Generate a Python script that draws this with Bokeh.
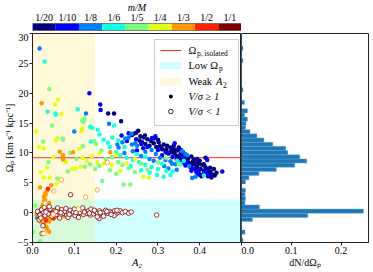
from bokeh.plotting import figure
from bokeh.layouts import column, row
from bokeh.models import Range1d, FixedTicker, BoxAnnotation, Label, Span
from bokeh.core.properties import value
from bokeh.embed import file_html
from bokeh.resources import INLINE

SERIF = "Liberation Serif"

# ---------------- data ----------------
mass_labels = ["1/20", "1/10", "1/8", "1/6", "1/5", "1/4", "1/3", "1/2", "1/1"]
mass_colors = ["#000080", "#0000ff", "#0080ff", "#15ffe2", "#7bff7b",
               "#e2ff15", "#ff9700", "#ff2100", "#800000"]

# filled points (V/sigma >= 1): (A2, Omega_p) per mass ratio
m20 = [(0.181,16.6),(0.195,16.6),(0.212,15.3),(0.253,13.7),(0.248,13.4),(0.242,13.2),(0.238,13.0),
       (0.269,12.9),(0.266,12.6),(0.256,12.1),(0.262,11.8),(0.275,12.3),(0.283,12.0),(0.29,11.6),
       (0.302,11.8),(0.314,11.4),(0.322,11.2),(0.33,10.9),(0.338,11.2),(0.342,10.5),(0.334,10.1),
       (0.354,9.8),(0.31,10.6),(0.318,10.2),(0.326,9.9),(0.346,10.4),(0.35,10.9),(0.36,10.1),
       (0.365,9.3),(0.372,9.0),(0.38,9.4),(0.386,8.9),(0.394,9.0),(0.4,8.7),(0.392,8.4),(0.378,7.6),
       (0.388,8.1),(0.394,7.7),(0.402,7.3),(0.41,7.0),(0.418,7.2),(0.426,6.8),(0.43,6.4),(0.422,6.5),
       (0.434,7.3),(0.406,8.0),(0.414,7.6),(0.398,8.2),(0.383,8.5),(0.37,8.6),(0.296,11.0),(0.305,11.1),
       (0.28,11.2),(0.27,11.5),(0.336,10.6),(0.345,9.5),(0.358,9.7),(0.35,9.2),(0.362,8.9),(0.374,8.3),
       (0.38,8.0),(0.39,7.2),(0.42,6.1),(0.44,6.7),(0.425,7.5),(0.41,8.1),(0.415,6.6),(0.29,12.4),
       (0.3,12.2),(0.258,12.8),(0.308,10.9),(0.32,10.6),(0.33,10.2),(0.34,9.9),(0.355,8.8),(0.414,9.2),
       (0.428,5.9),(0.436,6.2),(0.404,6.1),(0.396,6.4)]
m10 = [(0.136,20.0),(0.162,18.1),(0.163,17.2),(0.294,12.8),(0.213,12.9),(0.418,8.8),(0.398,6.6),
       (0.414,6.9),(0.408,6.4),(0.454,6.9),(0.36,8.3),(0.366,7.9),(0.23,13.3),(0.26,11.5),(0.275,11.0),
       (0.3,10.5),(0.322,10.0),(0.31,9.6),(0.335,9.3),(0.345,8.9),(0.368,8.5),(0.385,7.4),(0.397,7.0),
       (0.34,11.6),(0.286,12.5),(0.226,12.0),(0.248,12.3),(0.36,9.5),(0.38,7.0),(0.42,6.3),(0.392,6.8),
       (0.25,10.4),(0.265,10.8),(0.355,10.5)]
m8 = [(0.017,27.5),(0.128,16.6),(0.183,14.9),(0.1,13.6),(0.237,13.2),(0.222,12.4),(0.23,12.6),
      (0.246,11.6),(0.25,11.2),(0.238,11.4),(0.215,11.8),(0.203,11.4),(0.206,10.9),(0.358,10.3),
      (0.366,9.8),(0.37,9.6),(0.334,8.2),(0.342,8.1),(0.382,5.8),(0.011,-0.8),(0.27,10.2),(0.285,10.5),
      (0.295,9.8),(0.305,9.2),(0.318,8.8),(0.33,8.6),(0.35,8.5),(0.26,9.5),(0.28,9.0),(0.29,8.7),
      (0.315,7.8),(0.325,7.4),(0.345,7.2),(0.24,10.3),(0.22,10.0),(0.375,7.8),(0.39,6.0)]
m6 = [(0.029,25.3),(0.036,16.9),(0.055,16.6),(0.056,16.4),(0.108,17.3),(0.138,14.4),(0.143,14.2),
      (0.156,13.9),(0.16,13.1),(0.195,14.6),(0.191,12.6),(0.14,11.9),(0.346,8.7),(0.362,8.7),
      (0.354,8.1),(0.41,6.2),(0.298,6.3),(0.314,6.0),(0.18,11.7),(0.185,11.0),(0.2,10.1),(0.21,9.6),
      (0.225,9.2),(0.24,8.8),(0.255,8.5),(0.27,8.0),(0.285,7.6),(0.3,7.3),(0.32,7.0),(0.335,6.9),
      (0.26,7.1),(0.235,7.8),(0.25,9.8),(0.27,9.3),(0.22,11.0),(0.31,8.2),(0.28,6.7),(0.205,12.1),
      (0.17,12.2),(0.33,6.3)]
m5 = [(0.040,20.7),(0.124,15.8),(0.119,15.4),(0.124,15.5),(0.122,15.2),(0.047,14.6),(0.073,12.4),
      (0.026,11.9),(0.073,12.2),(0.121,11.1),(0.059,5.7),(0.007,1.2),(0.002,-3.2),(0.018,-4.8),
      (0.167,5.3),(0.218,4.7),(0.234,4.7),(0.35,8.1),(0.148,12.0),(0.152,11.5),(0.125,7.7),(0.138,8.1),
      (0.15,7.3),(0.16,7.8),(0.175,9.0),(0.19,9.3),(0.205,8.5),(0.215,8.0),(0.23,7.4),(0.245,6.8),
      (0.2,6.5),(0.185,7.1),(0.09,10.0),(0.105,9.0),(0.165,10.4),(0.26,8.2),(0.275,7.2),(0.3,8.4),
      (0.32,9.2),(0.085,6.9),(0.038,8.5)]
m4 = [(0.061,18.9),(0.054,18.1),(0.069,16.5),(0.009,13.6),(0.119,14.1),(0.117,13.6),(0.059,12.4),
      (0.055,12.1),(0.027,10.8),(0.112,10.7),(0.095,7.3),(0.103,7.4),(0.115,7.7),(0.027,5.9),
      (0.041,5.9),(0.278,5.9),(0.08,8.5),(0.12,9.2),(0.13,8.7),(0.142,9.5),(0.155,8.5),(0.17,8.2),
      (0.19,8.0),(0.21,7.0),(0.225,8.3),(0.245,9.0),(0.16,9.9),(0.05,9.3),(0.035,7.5),(0.265,6.0),
      (0.2,9.7),(0.058,4.9),(0.02,6.8),(0.015,11.0)]
m3 = [(0.022,18.3),(0.065,10.2),(0.097,10.1),(0.073,9.6),(0.073,8.9),(0.186,10.1),(0.035,3.7),
      (0.031,3.3),(0.031,3.0),(0.027,2.6),(0.028,1.9),(0.025,1.3),(0.022,0.9),(0.23,0.1),(0.015,0.3),
      (0.02,-0.2),(0.03,-0.6),(0.035,-1.0),(0.04,-1.5),(0.028,-1.9),(0.033,-2.4),(0.038,0.5),
      (0.045,-0.3),(0.05,0.2),(0.055,-0.7),(0.06,0.0),(0.065,-0.4),(0.07,0.3),(0.08,-0.2),(0.09,0.1),
      (0.1,-0.3),(0.12,0.2),(0.135,-0.1),(0.04,-3.2),(0.035,-2.8),(0.018,4.2),(0.045,4.6),(0.01,-0.4),
      (0.03,2.2),(0.04,1.6),(0.025,-0.9),(0.043,-0.8),(0.052,-0.5),(0.063,0.4),(0.077,-0.6),(0.019,-1.5),
      (0.036,0.0),(0.058,0.6),(0.085,0.3),(0.11,-0.5)]
m2 = [(0.037,4.0),(0.025,-0.5),(0.045,0.1),(0.06,-0.3),(0.02,0.4),(0.05,-1.0),(0.075,0.0),(0.032,-1.3)]
m1 = [(0.04,0.0),(0.015,-0.1)]
filled_groups = [m20, m10, m8, m6, m5, m4, m3, m2, m1]

# open points (V/sigma < 1)
open_m1 = [(0.091,3.0),(0.023,-3.5),(0.159,-1.0),(0.297,-0.4),(0.012,0.2),(0.018,-0.4),(0.022,0.5),
           (0.027,0.0),(0.03,-0.5),(0.034,0.3),(0.038,-0.2),(0.042,0.6),(0.046,-0.6),(0.05,0.0),
           (0.054,0.4),(0.058,-0.3),(0.062,0.1),(0.066,-0.5),(0.07,0.5),(0.074,-0.1),(0.078,0.2),
           (0.082,-0.4),(0.086,0.0),(0.09,0.4),(0.094,-0.2),(0.098,0.1),(0.102,-0.5),(0.106,0.3),
           (0.11,-0.1),(0.114,0.0),(0.118,0.5),(0.122,-0.3),(0.126,0.2),(0.13,-0.1),(0.134,0.3),
           (0.138,-0.4),(0.142,0.1),(0.146,-0.2),(0.15,0.2),(0.155,0.0),(0.16,0.3),(0.165,-0.2),
           (0.17,0.1),(0.175,0.4),(0.18,-0.1),(0.185,0.2),(0.19,0.0),(0.196,0.3),(0.2,-0.2),(0.205,0.1),
           (0.21,0.3),(0.215,0.0),(0.222,0.2),(0.23,-0.1),(0.236,0.1),(0.04,1.0),(0.06,0.8),(0.08,0.7),
           (0.1,0.6),(0.12,0.8),(0.14,0.6),(0.016,-1.2),(0.028,0.9),(0.065,-0.9),(0.085,-0.8),
           (0.11,-0.8),(0.155,-0.7),(0.025,-2.2),(0.02,-0.9),(0.17,-0.6),(0.195,-0.5),
           (0.032,0.1),(0.048,-0.2),(0.056,0.2),(0.068,0.0),(0.088,-0.3),(0.104,0.0),(0.124,0.1),
           (0.136,-0.1),(0.148,0.4),(0.162,0.0),(0.178,0.2),(0.188,-0.3),(0.202,0.4)]
open_m3 = [(0.069,5.5),(0.127,2.6),(0.179,8.4),(0.155,3.8),(0.051,3.6),(0.027,-3.5),(0.05,-0.3),
           (0.11,0.6),(0.03,1.6)]

omega_isolated = 9.2
low_omega_max = 2.2
weak_a2_max = 0.15

# histogram dN/dOmega_p : 50 bins of width 0.7 from -5
hist_lo = -5.0
hist_width = 0.7
hist_density = [0.003, 0, 0.007, 0, 0, 0.022, 0.133, 0.245, 0.036, 0.007,
                0.008, 0.007, 0.008, 0, 0.008, 0.015, 0.035, 0.070, 0.107, 0.131,
                0.117, 0.093, 0.089, 0.063, 0.045, 0.031, 0.017, 0.008, 0.009, 0.012,
                0.006, 0.012, 0, 0.006, 0, 0, 0.003, 0, 0, 0,
                0, 0, 0, 0.003, 0, 0, 0.003, 0, 0, 0]

# ---------------- styling helpers ----------------
def style_axis(ax):
    ax.major_label_text_font = SERIF
    ax.major_label_text_font_size = "10px"
    ax.major_label_text_color = "black"
    ax.axis_label_text_font = SERIF
    ax.axis_label_text_font_size = "10px"
    ax.axis_label_text_font_style = "normal"
    ax.axis_label_text_color = "black"
    ax.axis_label_standoff = 0
    ax.major_tick_out = 3
    ax.major_tick_in = 0
    ax.minor_tick_out = 0
    ax.minor_tick_in = 0
    ax.major_label_standoff = 1
    ax.axis_line_color = "#222222"
    ax.major_tick_line_color = "#222222"

FRAME_W = 209
FRAME_H = 209
LEFT = 32
TOP = 33
BOTTOM = 30
HIST_W = 127
RIGHT = 5

# ---------------- colour bar ----------------
cb = figure(width=LEFT + FRAME_W, height=TOP, x_range=Range1d(0, len(mass_labels)),
            y_range=Range1d(0, TOP), output_backend="svg", toolbar_location=None,
            min_border_left=LEFT, min_border_right=0, min_border_top=0, min_border_bottom=0)
cb.axis.visible = False
cb.grid.visible = False
cb.outline_line_color = None
cb.background_fill_color = None
cb.border_fill_color = None
idx = list(range(len(mass_labels)))
cb.rect(x=[i + 0.5 for i in idx], y=6.5, width=1, height=7, fill_color=mass_colors, line_color=None)
cb.rect(x=len(idx) / 2, y=6.5, width=len(idx), height=7, fill_color=None, line_color="#444444", line_width=0.6)
cb.text(x=[i + 0.5 for i in idx], y=16.5, text=mass_labels, text_align="center",
        text_baseline="middle", text_font=value(SERIF), text_font_size="10px", text_color="black")
cb.text(x=[len(idx) / 2], y=[26], text=["m/M"], text_align="center", text_baseline="middle",
        text_font=value(SERIF), text_font_size="10px", text_font_style="italic", text_color="black")

# ---------------- main panel ----------------
p = figure(width=LEFT + FRAME_W, height=FRAME_H + BOTTOM, x_range=Range1d(0, 0.5),
           y_range=Range1d(-5, 30), output_backend="svg", toolbar_location=None,
           min_border_left=LEFT, min_border_right=0, min_border_top=0, min_border_bottom=BOTTOM)
p.grid.visible = False
p.outline_line_color = "#222222"
p.outline_line_width = 1
p.background_fill_color = "white"
p.border_fill_color = None
style_axis(p.xaxis[0])
style_axis(p.yaxis[0])
p.xaxis.ticker = FixedTicker(ticks=[0, 0.1, 0.2, 0.3, 0.4])
p.xaxis.major_label_overrides = {0: "0.0", 0.1: "0.1", 0.2: "0.2", 0.3: "0.3", 0.4: "0.4"}
p.yaxis.ticker = FixedTicker(ticks=[-5, 0, 5, 10, 15, 20, 25, 30])
p.yaxis.major_label_overrides = {-5: "\u22125"}
p.xaxis.axis_label = "A\u2082"
p.xaxis.axis_label_text_font_style = "italic"
p.xaxis.axis_label_text_font_size = "10.5px"
p.yaxis.axis_label = "\u03a9\u209a [km s\u207b\u00b9 kpc\u207b\u00b9]"

p.add_layout(BoxAnnotation(top=low_omega_max, fill_color="cyan", fill_alpha=0.18,
                           line_color=None, level="underlay"))
p.add_layout(BoxAnnotation(right=weak_a2_max, fill_color="#ffd700", fill_alpha=0.15,
                           line_color=None, level="underlay"))
p.add_layout(Span(location=omega_isolated, dimension="width", line_color="#ff0000",
                  line_alpha=0.85, line_width=1, level="underlay"))

for grp, col in zip(filled_groups, mass_colors):
    if grp:
        p.scatter(x=[a for a, o in grp], y=[o for a, o in grp], size=4.5,
                  fill_color=col, line_color=None)
p.scatter(x=[a for a, o in open_m1], y=[o for a, o in open_m1], size=4.5,
          fill_color="white", line_color=mass_colors[8], line_width=0.8)
p.scatter(x=[a for a, o in open_m3], y=[o for a, o in open_m3], size=4.5,
          fill_color="white", line_color=mass_colors[6], line_width=0.8)

# ---- legend (drawn manually) ----
lx0, lx1, ly0, ly1 = 0.292, 0.493, 14.6, 29.0
p.quad(left=[lx0], right=[lx1], bottom=[ly0], top=[ly1], fill_color="white", fill_alpha=0.85,
       line_color="#cccccc", line_width=1)
hx0, hx1, hxc, tx = 0.306, 0.356, 0.331, 0.373
rows_y = [27.15, 24.64, 21.96, 19.44, 16.93]
p.segment(x0=[hx0], x1=[hx1], y0=[rows_y[0]], y1=[rows_y[0]], line_color="#ff0000", line_alpha=0.85, line_width=1)
p.quad(left=[hx0], right=[hx1], bottom=[rows_y[1] - 0.6], top=[rows_y[1] + 0.6],
       fill_color="cyan", fill_alpha=0.18, line_color=None)
p.quad(left=[hx0], right=[hx1], bottom=[rows_y[2] - 0.6], top=[rows_y[2] + 0.6],
       fill_color="#ffd700", fill_alpha=0.15, line_color=None)
p.scatter(x=[hxc], y=[rows_y[3]], size=4, fill_color="black", line_color=None)
p.scatter(x=[hxc], y=[rows_y[4]], size=4.5, fill_color="white", line_color="black", line_width=0.8)

def lab(x, y, text, size="10.5px", style="normal", dx=0, dy=0):
    p.add_layout(Label(x=x, y=y, text=text, x_offset=dx, y_offset=dy, text_font=SERIF,
                       text_font_size=size, text_font_style=style, text_baseline="middle",
                       text_color="black"))

lab(tx, rows_y[0], "\u03a9")
lab(tx, rows_y[0], "p, isolated", size="7.5px", dx=8.5, dy=-3)
lab(tx, rows_y[1], "Low \u03a9")
lab(tx, rows_y[1], "p", size="7.5px", dx=30.5, dy=-3)
lab(tx, rows_y[2], "Weak")
lab(tx, rows_y[2], "A", style="italic", dx=27.5)
lab(tx, rows_y[2], "2", size="7.5px", dx=34.5, dy=-3)
lab(tx, rows_y[3], "V/\u03c3 \u2265 1", style="italic")
lab(tx, rows_y[4], "V/\u03c3 < 1", style="italic")

# ---------------- histogram panel ----------------
h = figure(width=HIST_W + RIGHT, height=FRAME_H + BOTTOM, x_range=Range1d(0, 0.255), y_range=p.y_range,
           output_backend="svg", toolbar_location=None,
           min_border_left=0, min_border_right=RIGHT, min_border_top=0, min_border_bottom=BOTTOM)
h.grid.visible = False
h.yaxis.visible = False
h.outline_line_color = "#222222"
h.outline_line_width = 1
h.border_fill_color = None
style_axis(h.xaxis[0])
h.xaxis.ticker = FixedTicker(ticks=[0, 0.1, 0.2])
h.xaxis.major_label_overrides = {0: "0.0", 0.1: "0.1", 0.2: "0.2"}
h.xaxis.axis_label = "dN/d\u03a9\u209a"
centers = [hist_lo + hist_width * (i + 0.5) for i in range(len(hist_density))]
h.hbar(y=centers, left=0, right=hist_density, height=hist_width,
       fill_color="#1f77b4", line_color="#6fa8d6", line_width=0.4)

layout = column(cb, row(p, h))
open("out.html", "w").write(file_html(layout, INLINE))
